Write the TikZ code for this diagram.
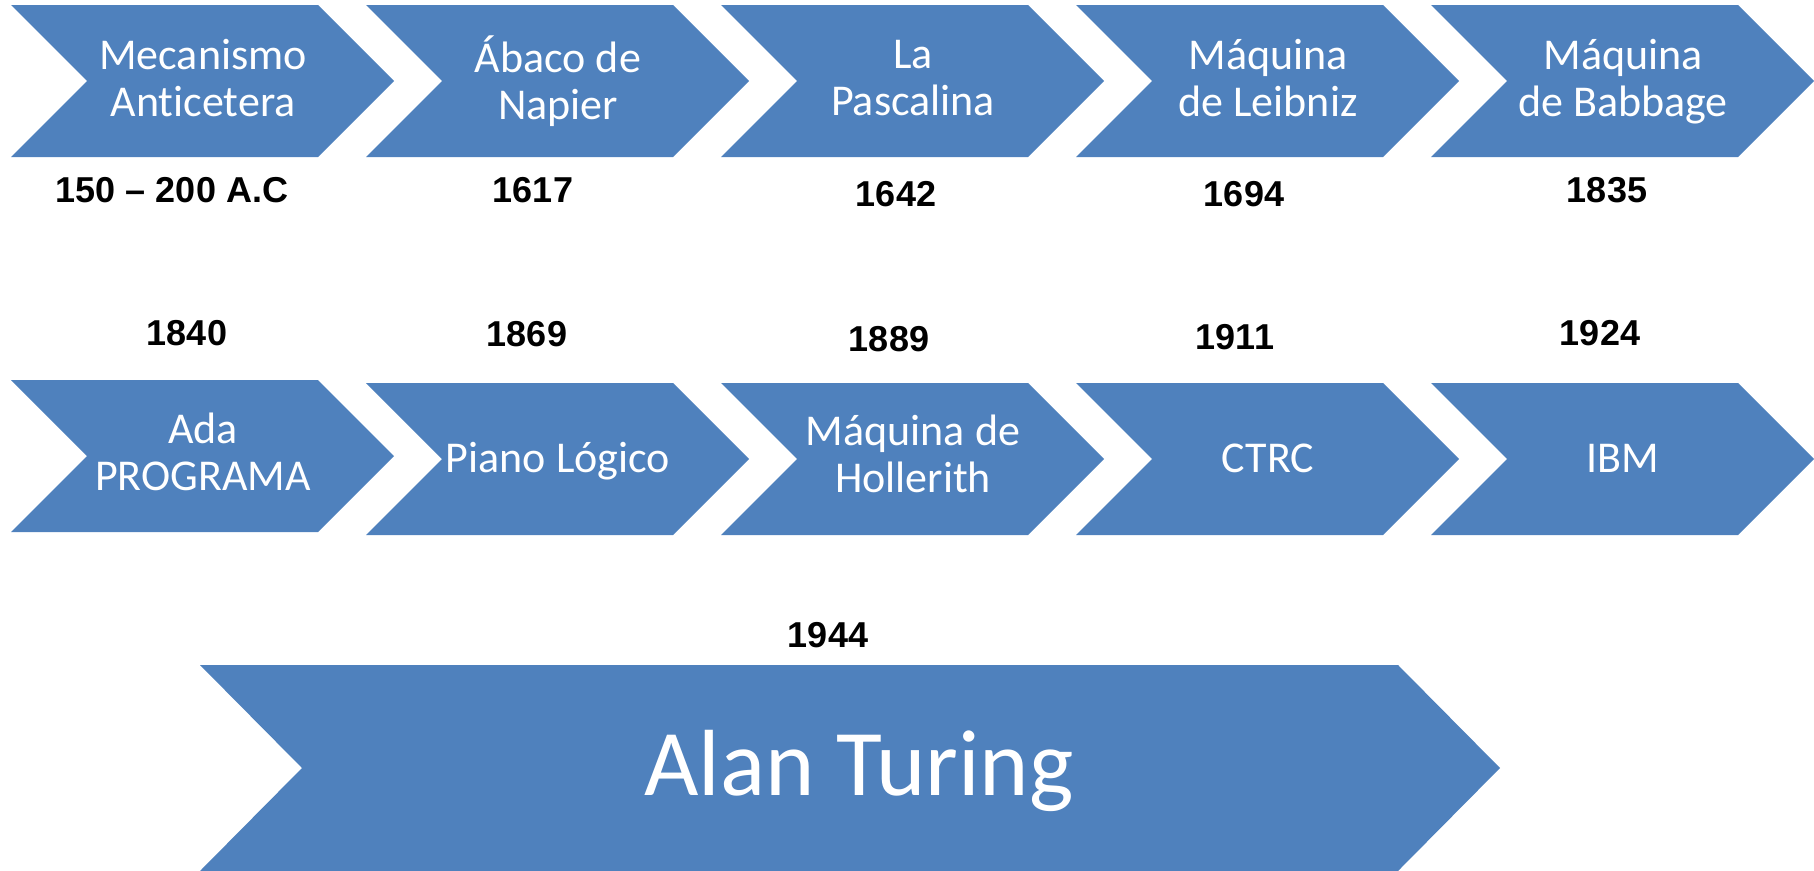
\documentclass[tikz,border=0pt]{standalone}
\usepackage{fontspec}
\setmainfont[Ligatures=NoCommon]{Carlito}
\newfontfamily\yearfont{Liberation Sans}
\definecolor{chevblue}{HTML}{4F81BD}

\begin{document}
\begin{tikzpicture}[x=1pt,y=-1pt,
    chev/.style={fill=chevblue},
    lbl/.style={text=white,align=center,inner sep=0pt,
      font=\fontsize{44}{47}\selectfont,
      execute at begin node=\strut,execute at end node=\strut},
    yr/.style={font=\yearfont\bfseries\fontsize{36}{40}\selectfont,inner sep=0pt}]
    \useasboundingbox (0,0) rectangle (1814,870);
    % primera fila
    \foreach \i/\txt in {0/{Mecanismo\\Anticetera},1/{Ábaco de\\Napier},2/{La\\Pascalina},
        3/{Máquina\\de Leibniz},4/{Máquina\\de Babbage}} {
      \fill[chev] ({11+355*\i},5) -- ++(307,0) -- ++(76,76) -- ++(-76,76) -- ++(-307,0) -- ++(76,-76) -- cycle;
      \node[lbl] (hito\i) at ({203+355*\i},85) {\txt};
    }
    % segunda fila
    \foreach \i/\y/\c/\txt in {5/380/459/{Ada\\PROGRAMA},6/383/463/{Piano Lógico},7/383/461/{Máquina de\\Hollerith},
        8/383/463/{CTRC},9/383/463/{IBM}} {
      \fill[chev] ({11+355*(\i-5)},\y) -- ++(307,0) -- ++(76,76) -- ++(-76,76) -- ++(-307,0) -- ++(76,-76) -- cycle;
      \node[lbl] (hito\i) at ({203+355*(\i-5)},\c) {\txt};
    }
    % fechas
    \foreach \n/\x/\y/\t in {0/172/190/{150 – 200 A.C},1/533/190/1617,2/896/194/1642,3/1244/194/1694,4/1607/190/1835,
        5/187/333/1840,6/527/334/1869,7/889/339/1889,8/1235/337/1911,9/1600/333/1924,10/828/635/1944}
      \node[yr] (fecha\n) at (\x,\y) {\t};
    % Turing
    \fill[chev] (200,665) -- (1398,665) -- (1500,768) -- (1398,871) -- (200,871) -- (302,768) -- cycle;
    \node[text=white,inner sep=0pt,anchor=base,font=\fontsize{94}{100}\selectfont] (turing) at (859,795) {Alan Turing};
\end{tikzpicture}
\end{document}
